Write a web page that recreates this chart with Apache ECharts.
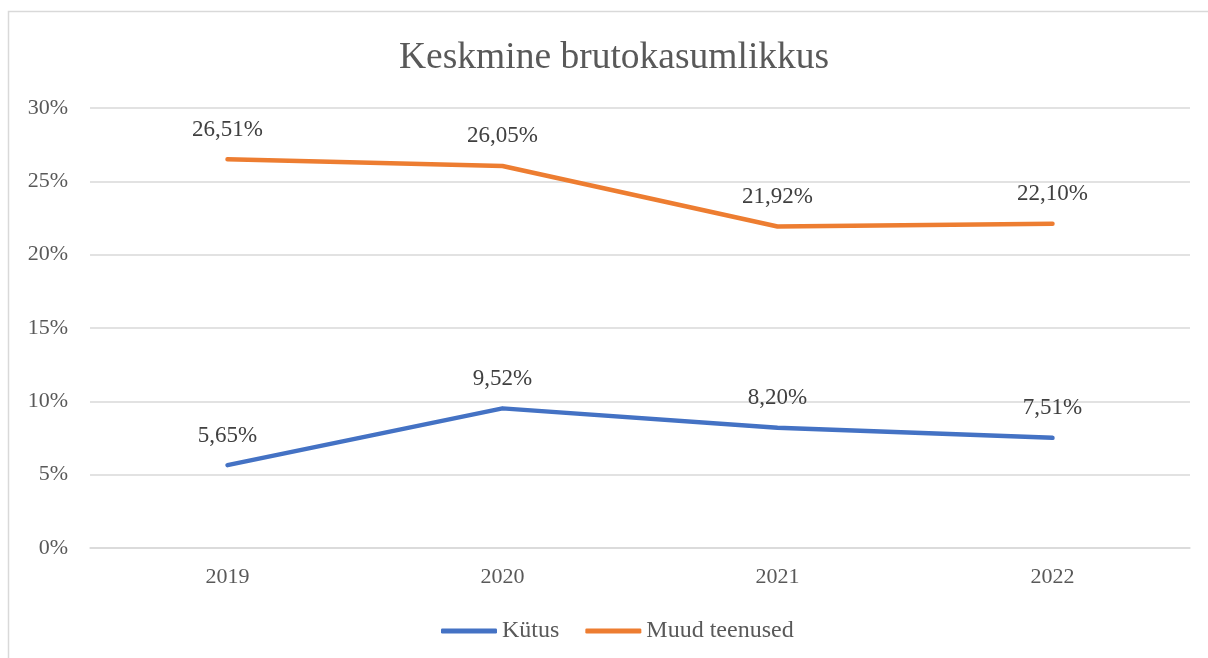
<!DOCTYPE html>
<html>
<head>
<meta charset="utf-8">
<script src="https://cdn.jsdelivr.net/npm/echarts@6/dist/echarts.min.js"></script>
<style>
  html, body { margin: 0; padding: 0; background: #fff; }
  #chart { width: 1208px; height: 658px; }
</style>
</head>
<body>
<div id="chart"></div>
<script>
var years = ['2019', '2020', '2021', '2022'];
var kytus = [5.65, 9.52, 8.20, 7.51];
var muud = [26.51, 26.05, 21.92, 22.10];
var yTicks = [0, 5, 10, 15, 20, 25, 30];

var font = '"Liberation Serif", "Times New Roman", serif';

function pct(p) {
    return p.value.toFixed(2).replace('.', ',') + '%';
}

function make_series(name, data, color) {
    return {
        name: name,
        type: 'line',
        data: data,
        symbol: 'circle',
        symbolSize: 0,
        itemStyle: { color: color },
        lineStyle: { color: color, width: 4.5, cap: 'round', join: 'round' },
        label: {
            show: true,
            position: 'top',
            distance: 18,
            formatter: pct,
            fontFamily: font,
            fontSize: 23,
            color: '#404040'
        },
        emphasis: { disabled: true }
    };
}

var chart = echarts.init(document.getElementById('chart'));
chart.setOption({
    animation: false,
    title: {
        text: 'Keskmine brutokasumlikkus',
        left: 394,
        top: 34,
        textStyle: { fontFamily: font, fontSize: 37.5, fontWeight: 'normal', color: '#595959' }
    },
    legend: {
        top: 614,
        left: 436,
        icon: 'roundRect',
        itemWidth: 56,
        itemHeight: 5,
        itemGap: 26,
        textStyle: { fontFamily: font, fontSize: 24, color: '#595959' },
        data: ['Kütus', 'Muud teenused']
    },
    grid: { left: 90, right: 18, top: 108, bottom: 110 },
    xAxis: {
        type: 'category',
        data: years,
        boundaryGap: true,
        axisLine: { lineStyle: { color: '#d9d9d9', width: 1.5 } },
        axisTick: { show: false },
        axisLabel: { fontFamily: font, fontSize: 22, color: '#595959', margin: 18 }
    },
    yAxis: {
        type: 'value',
        min: yTicks[0],
        max: yTicks[yTicks.length - 1],
        interval: 5,
        axisLine: { show: false },
        axisTick: { show: false },
        splitLine: { lineStyle: { color: '#d9d9d9', width: 1.5 } },
        axisLabel: { fontFamily: font, fontSize: 22, color: '#595959', margin: 22, formatter: '{value}%' }
    },
    graphic: [{
        type: 'rect',
        shape: { x: 8.5, y: 11.5, width: 1210, height: 660 },
        style: { fill: null, stroke: '#d9d9d9', lineWidth: 1.5 },
        silent: true
    }],
    series: [
        make_series('Kütus', kytus, '#4472C4'),
        make_series('Muud teenused', muud, '#ED7D31')
    ]
});
</script>
</body>
</html>
